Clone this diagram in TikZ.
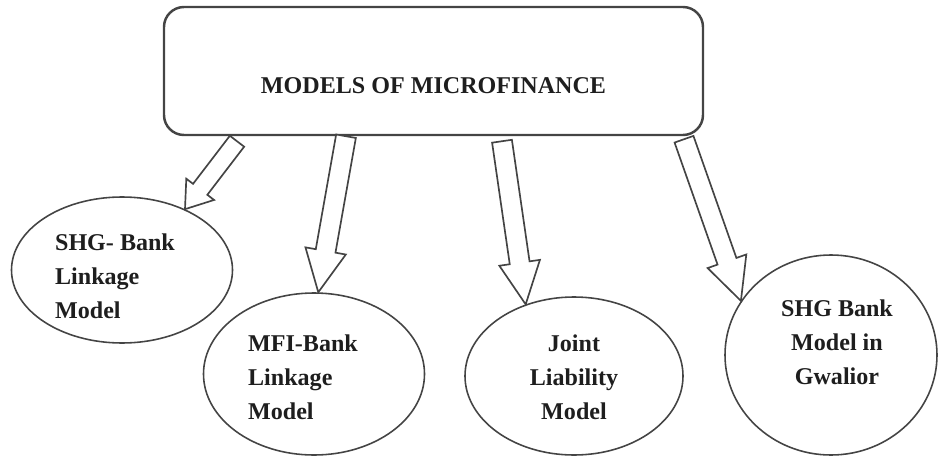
\documentclass[tikz,border=0pt]{standalone}
\usepackage{fontspec}
\setmainfont{Liberation Serif}
\usepackage{tikz}
\usetikzlibrary{calc, shapes.geometric, positioning}
\definecolor{linegray}{RGB}{68,68,68}
\definecolor{textblack}{RGB}{30,30,30}

\newcommand{\hollowarrow}[5]{%
  \coordinate (hb) at ($(#2)!#5!(#1)$);
  \draw[arrowline] ($(#1)!#3!90:(#2)$) -- ($(hb)!#3!90:(#2)$) -- ($(hb)!#4!90:(#2)$) -- (#2)
    -- ($(hb)!#4!-90:(#2)$) -- ($(hb)!#3!-90:(#2)$) -- ($(#1)!#3!-90:(#2)$) -- cycle;
}

\begin{document}
\begin{tikzpicture}[
    model/.style={draw=linegray, ellipse, line width=0.9pt, inner sep=0pt},
    txt/.style={font=\fontsize{13.7}{19.3}\selectfont\bfseries, text=textblack},
    arrowline/.style={draw=linegray, line width=0.95pt, fill=white, line join=miter},
]
    \useasboundingbox (0,0) rectangle (18.76,9.14);

    \node[draw=linegray, line width=1.4pt, rounded corners=0.4cm, minimum width=10.78cm, minimum height=2.56cm] (box) at (8.67,7.72) {};
    \node[txt] (title) at ([yshift=-0.3cm]box.center) {MODELS OF MICROFINANCE};

    \node[model, minimum width=4.42cm, minimum height=2.92cm] (shg) at (2.44,3.74) {};
    \node[model, minimum width=4.42cm, minimum height=3.24cm] (mfi) at (6.28,1.66) {};
    \node[model, minimum width=4.36cm, minimum height=3.16cm] (jlm) at (11.48,1.62) {};
    \node[model, minimum width=4.24cm, minimum height=4.00cm] (gwl) at (16.62,2.04) {};

    \node[txt, align=left] (shgtext) at ([xshift=-0.14cm, yshift=-0.12cm]shg.center) {SHG- Bank\\Linkage\\Model};
    \node[txt, align=left] (mfitext) at ([xshift=-0.22cm, yshift=-0.06cm]mfi.center) {MFI-Bank\\Linkage\\Model};
    \node[txt, align=center] (jlmtext) at ([yshift=-0.02cm]jlm.center) {Joint\\Liability\\Model};
    \node[txt, align=center] (gwltext) at ([xshift=0.12cm, yshift=0.26cm]gwl.center) {SHG Bank\\Model in\\Gwalior};

    \coordinate (s1) at ([xshift=-3.93cm, yshift=-0.10cm]box.south);
    \coordinate (s2) at ([xshift=-1.75cm]box.south);
    \coordinate (s3) at ([xshift=1.37cm, yshift=-0.10cm]box.south);
    \coordinate (s4) at ([xshift=5.01cm, yshift=-0.06cm]box.south);

    \hollowarrow{s1}{shg.44}{0.18cm}{0.35cm}{0.5cm}
    \hollowarrow{s2}{mfi.87}{0.2cm}{0.41cm}{0.84cm}
    \hollowarrow{s3}{jlm.124}{0.2cm}{0.41cm}{0.84cm}
    \hollowarrow{s4}{gwl.149}{0.2cm}{0.41cm}{0.84cm}
\end{tikzpicture}
\end{document}
